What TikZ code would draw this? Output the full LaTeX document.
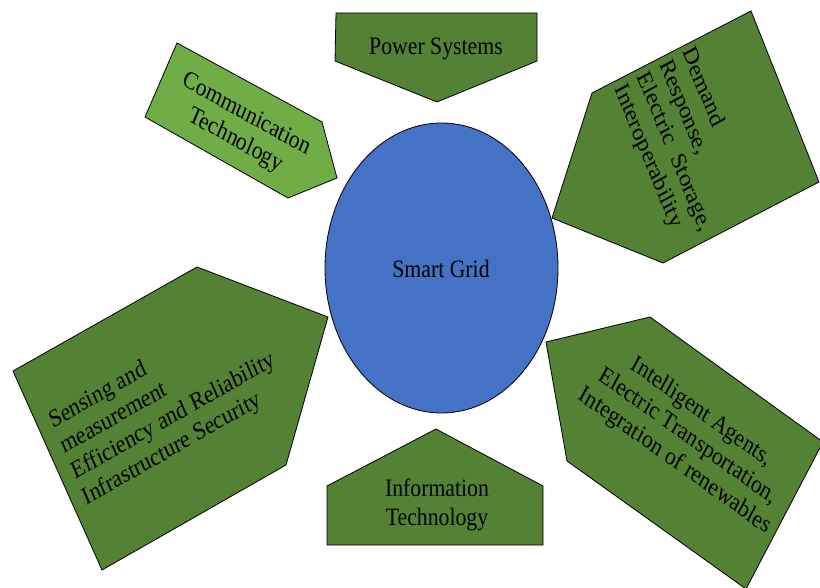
\documentclass[tikz,border=0pt]{standalone}
\usepackage{fontspec}
\setmainfont{Liberation Serif}
\definecolor{dgreen}{RGB}{84,130,53}
\definecolor{lgreen}{RGB}{112,173,71}
\definecolor{gblue}{RGB}{68,114,196}
\begin{document}
\begin{tikzpicture}[x=1pt,y=-1pt,
  shapebox/.style={draw=black, line width=0.8pt, line join=miter},
  lbl/.style={transform shape, inner sep=0pt, text=black,
    font=\fontsize{25}{28.75}\selectfont}]
\useasboundingbox (0,0) rectangle (820,588);
% central ellipse
\draw[shapebox, fill=gblue] (441.5,268) ellipse [x radius=116.5, y radius=145];
% pentagon arrows
\draw[shapebox, fill=dgreen] (336,13) -- (537,13) -- (537,61) -- (437,102) -- (335,61) -- cycle;
\draw[shapebox, fill=lgreen] (177,43) -- (322,122) -- (337,178) -- (288,198) -- (145,117) -- cycle;
\draw[shapebox, fill=dgreen] (751,11) -- (819,182) -- (663,263) -- (552,218) -- (592,93) -- cycle;
\draw[shapebox, fill=dgreen] (197,267) -- (328,317) -- (286,465) -- (102,570) -- (13,371) -- cycle;
\draw[shapebox, fill=dgreen] (546,342) -- (650,317) -- (823,442) -- (746,589) -- (567,461) -- cycle;
\draw[shapebox, fill=dgreen] (436,429) -- (543,486) -- (543,545) -- (327,545) -- (327,486) -- cycle;
% labels (slightly condensed horizontally, as in the reference)
\begin{scope}[shift={(441,268.5)}, xscale=0.87]
  \node[lbl] (grid) {Smart Grid};
\end{scope}
\begin{scope}[shift={(436,49)}, xscale=0.87]
  \node[lbl] (power) {Power Systems};
\end{scope}
\begin{scope}[shift={(437,505)}, xscale=0.87]
  \node[lbl, align=center] (info) {Information\\Technology};
\end{scope}
\begin{scope}[shift={(241,128)}, xscale=0.87]
  \node[lbl, align=center, rotate=-26] (comm) {Communication\\Technology};
\end{scope}
\begin{scope}[shift={(685,146)}, xscale=0.87]
  \node[lbl, align=left, rotate=-64.7] (demand) {Demand\\Response,\\Electric\ \ Storage,\\Interoperability};
\end{scope}
\begin{scope}[shift={(168,404)}, xscale=0.87]
  \node[lbl, align=left, rotate=26.5] (sensing) {Sensing and\\measurement\\Efficiency and Reliability\\Infrastructure Security};
\end{scope}
\begin{scope}[shift={(688,437)}, xscale=0.87]
  \node[lbl, align=center, rotate=-32] (agents) {Intelligent Agents,\\Electric Transportation,\\Integration of renewables};
\end{scope}
\end{tikzpicture}
\end{document}
